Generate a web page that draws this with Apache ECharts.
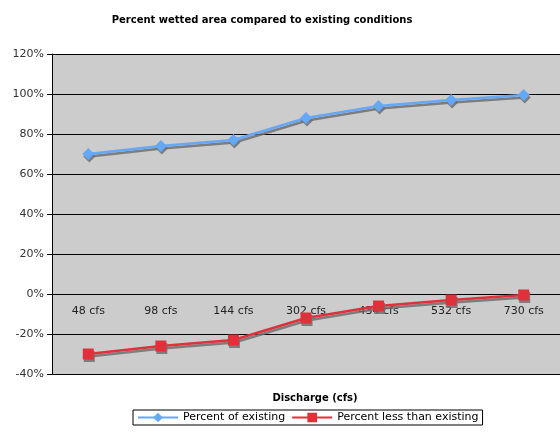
<!DOCTYPE html>
<html>
<head>
<meta charset="utf-8">
<script src="https://cdn.jsdelivr.net/npm/echarts@6/dist/echarts.min.js"></script>
<style>
html,body{margin:0;padding:0;background:#fff}
#chart{width:560px;height:434px}
</style>
</head>
<body>
<div id="chart"></div>
<script>
var categories=["48 cfs","98 cfs","144 cfs","302 cfs","434 cfs","532 cfs","730 cfs"]
var percentExisting=[70,74,77,88,94,97,99.5]
var percentLess=[-30,-26,-23,-12,-6,-3,-0.5]
var yTicks={min:-40,max:120,interval:20}

var mychart=echarts.init(document.getElementById('chart'));
var font='DejaVu Sans'
var shadow={shadowColor:'rgba(110,110,110,0.85)',shadowOffsetX:1,shadowOffsetY:2.5}
// plot is 320px tall for 160%, so the 0% line sits 80px above the bottom
var option={
	animation:false,
	title:[{
		text:"Percent wetted area compared to existing conditions",
		left:257,top:10,textAlign:'center',
		textStyle:{fontFamily:font,fontSize:10,fontWeight:'bold',color:'#000'}
	},{
		text:"Discharge (cfs)",
		left:310,top:388,textAlign:'center',
		textStyle:{fontFamily:font,fontSize:10,fontWeight:'bold',color:'#000'}
	}],
	legend:{
		bottom:9,left:133,
		itemWidth:40,itemHeight:12,itemGap:6,
		borderColor:'#000',borderWidth:1,borderRadius:0,
		padding:[2,4,2,4],
		textStyle:{fontFamily:font,fontSize:11,color:'#000'},
		data:["Percent of existing","Percent less than existing"]
	},
	grid:{left:52,right:0,top:54,bottom:60,show:true,backgroundColor:'#cccccc',borderWidth:0},
	xAxis:{
		type:'category',
		data:categories,
		offset:-80,
		axisLine:{onZero:false,lineStyle:{color:'#000',width:1}},
		axisTick:{length:4,lineStyle:{color:'#000'}},
		axisLabel:{fontFamily:font,fontSize:11,color:'#222',margin:12}
	},
	yAxis:{
		type:'value',
		min:yTicks.min,max:yTicks.max,interval:yTicks.interval,
		axisLine:{show:true,lineStyle:{color:'#000'}},
		axisTick:{show:true,length:5,lineStyle:{color:'#000'}},
		splitLine:{lineStyle:{color:'#000',width:1}},
		axisLabel:{fontFamily:font,fontSize:11,color:'#333',formatter:'{value}%',margin:8}
	},
	series:[{
		name:"Percent of existing",
		type:'line',
		data:percentExisting,
		symbol:'diamond',symbolSize:12,
		color:'#66a8f8',
		lineStyle:Object.assign({width:2.5,color:'#66a8f8'},shadow),
		itemStyle:Object.assign({color:'#66a8f8'},shadow)
	},{
		name:"Percent less than existing",
		type:'line',
		data:percentLess,
		symbol:'rect',symbolSize:11,
		color:'#e0303a',
		lineStyle:Object.assign({width:2.5,color:'#e0303a'},shadow),
		itemStyle:Object.assign({color:'#e0303a'},shadow)
	}]
};
mychart.setOption(option);
</script>
</body>
</html>
